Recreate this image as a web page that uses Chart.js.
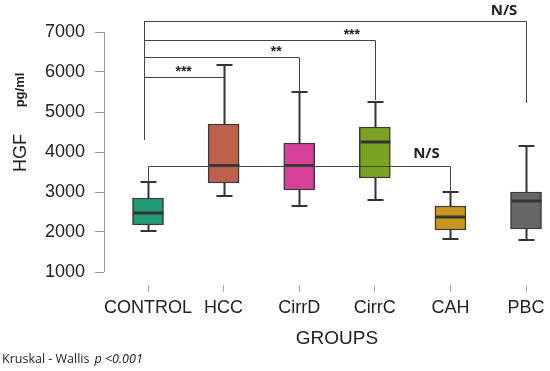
<!DOCTYPE html>
<html>
<head>
<meta charset="utf-8">
<script src="https://cdn.jsdelivr.net/npm/chart.js@4.4.1/dist/chart.umd.min.js"></script>
<style>
  body { margin: 0; background: #fff; }
  #wrap { width: 550px; height: 371px; }
</style>
</head>
<body>
<div id="wrap"><canvas id="hgfChart" width="550" height="371"></canvas></div>
<script>
// groupes et valeurs (pg/ml)
const groups = ['CONTROL', 'HCC', 'CirrD', 'CirrC', 'CAH', 'PBC'];
const whiskerLow = [2025, 2900, 2650, 2800, 1825, 1800];
const q1 = [2175, 3225, 3050, 3350, 2050, 2075];
const median = [2475, 3660, 3660, 4250, 2375, 2775];
const q3 = [2850, 4700, 4225, 4625, 2650, 3000];
const whiskerHigh = [3250, 6175, 5500, 5250, 3000, 4150];
const boxColors = ['#1F9A72', '#BE604C', '#D8409A', '#7AA321', '#C8951E', '#666666'];
const yTicks = [1000, 2000, 3000, 4000, 5000, 6000, 7000];

// comparaisons avec CONTROL
const bracketTo = [1, 2, 3, 5];
const bracketLevel = [5875, 6375, 6800, 7275];
const bracketDrop = [5875, 5500, 5300, 5225];
const bracketLabel = ['***', '**', '***', 'N/S'];
const nsLevel = 3662; // ligne N/S CONTROL - CAH

const boxExtras = {
  id: 'boxExtras',
  afterDatasetsDraw(chart) {
    const c = chart.ctx;
    const x = chart.scales.x, y = chart.scales.y;
    c.save();
    // axe y (seulement 1000 -> 7000)
    c.strokeStyle = '#999';
    c.lineWidth = 1;
    c.beginPath();
    c.moveTo(chart.chartArea.left + 0.5, y.getPixelForValue(yTicks[0]));
    c.lineTo(chart.chartArea.left + 0.5, y.getPixelForValue(yTicks[yTicks.length - 1]));
    c.stroke();

    // moustaches et medianes
    groups.forEach((g, i) => {
      const px = Math.round(x.getPixelForValue(i)) + 0.5;
      c.strokeStyle = '#333';
      c.lineWidth = 2;
      c.beginPath();
      c.moveTo(px, y.getPixelForValue(whiskerLow[i]));
      c.lineTo(px, y.getPixelForValue(q1[i]));
      c.moveTo(px, y.getPixelForValue(q3[i]));
      c.lineTo(px, y.getPixelForValue(whiskerHigh[i]));
      c.moveTo(px - 8, y.getPixelForValue(whiskerLow[i]));
      c.lineTo(px + 8, y.getPixelForValue(whiskerLow[i]));
      c.moveTo(px - 8, y.getPixelForValue(whiskerHigh[i]));
      c.lineTo(px + 8, y.getPixelForValue(whiskerHigh[i]));
      c.stroke();
      c.lineWidth = 3;
      c.beginPath();
      c.moveTo(px - 15, y.getPixelForValue(median[i]));
      c.lineTo(px + 15, y.getPixelForValue(median[i]));
      c.stroke();
    });

    // crochets de significativite
    const x0 = Math.round(x.getPixelForValue(0)) + 0.5;
    c.strokeStyle = '#444';
    c.lineWidth = 1;
    c.beginPath();
    c.moveTo(x0 - 4, y.getPixelForValue(bracketLevel[3]));
    c.lineTo(x0 - 4, y.getPixelForValue(4300));
    bracketTo.forEach((g, k) => {
      const xe = Math.round(x.getPixelForValue(g)) + 0.5;
      const yl = Math.round(y.getPixelForValue(bracketLevel[k])) + 0.5;
      c.moveTo(x0 - 4, yl);
      c.lineTo(xe, yl);
      c.lineTo(xe, y.getPixelForValue(bracketDrop[k]));
    });
    const yn = Math.round(y.getPixelForValue(nsLevel)) + 0.5;
    const x4 = Math.round(x.getPixelForValue(4)) + 0.5;
    c.moveTo(x0, y.getPixelForValue(whiskerHigh[0]));
    c.lineTo(x0, yn);
    c.lineTo(x4, yn);
    c.lineTo(x4, y.getPixelForValue(whiskerHigh[4]));
    c.stroke();

    c.fillStyle = '#222';
    c.textAlign = 'center';
    c.textBaseline = 'middle';
    const offs = [40, 23, 23, 22];
    bracketTo.forEach((g, k) => {
      const xe = x.getPixelForValue(g);
      const yl = y.getPixelForValue(bracketLevel[k]);
      if (bracketLabel[k] === 'N/S') {
        c.font = 'bold 15px "Open Sans"';
        c.fillText('N/S', xe - offs[k], yl - 10);
      } else {
        c.font = 'bold 14px "Liberation Sans"';
        c.fillText(bracketLabel[k], xe - offs[k], yl - 5);
      }
    });
    c.font = 'bold 15px "Open Sans"';
    c.fillText('N/S', x4 - 24, yn - 13);

    // titre axe x
    c.font = '19px "Liberation Sans"';
    c.fillText('GROUPS', 337, 339);

    // titre axe y (texte vertical)
    c.save();
    c.translate(21, 153);
    c.rotate(-Math.PI / 2);
    c.font = '18px "Liberation Sans"';
    c.fillStyle = '#222';
    c.fillText('HGF', 0, 0);
    c.font = 'bold 13px "Liberation Sans"';
    c.fillText('pg/ml', 63, -1);
    c.restore();

    // Kruskal - Wallis
    c.textAlign = 'left';
    c.font = '12.5px "Open Sans"';
    const t1 = 'Kruskal - Wallis';
    c.fillText(t1, 2, 359);
    const w1 = c.measureText(t1).width;
    c.font = 'italic 12.5px "Open Sans"';
    c.fillText('p <0.001', 2 + w1 + 5, 359);
    c.restore();
  }
};

const ctx = document.getElementById('hgfChart').getContext('2d');
new Chart(ctx, {
  type: 'bar',
  data: {
    datasets: [{
      data: groups.map((g, i) => ({ x: i, y: [q1[i], q3[i]] })),
      backgroundColor: boxColors,
      borderColor: '#3a3a3a',
      borderWidth: 1.5,
      borderSkipped: false,
      barThickness: 31
    }]
  },
  options: {
    responsive: false,
    animation: false,
    layout: { padding: { top: 8, right: 5, left: 0, bottom: 0 } },
    plugins: { legend: { display: false }, tooltip: { enabled: false } },
    scales: {
      x: {
        type: 'linear',
        offset: false,
        min: -0.582,
        max: 5.251,
        afterBuildTicks: s => { s.ticks = groups.map((g, i) => ({ value: i })); },
        afterFit: s => { s.height = 86; s.paddingLeft = 0; s.paddingRight = 0; },
        grid: { offset: false, drawOnChartArea: false, drawTicks: true, tickLength: 7, color: '#aaa' },
        border: { display: false },
        ticks: {
          autoSkip: false,
          maxRotation: 0,
          padding: 5,
          color: '#222',
          font: { family: 'Liberation Sans', size: 18 },
          callback: v => groups[v]
        }
      },
      y: {
        min: 675,
        max: 7600,
        afterBuildTicks: s => { s.ticks = yTicks.map(v => ({ value: v })); },
        afterFit: s => { s.width = 104; s.paddingTop = 0; s.paddingBottom = 0; },
        grid: { drawOnChartArea: false, drawTicks: true, tickLength: 9, color: '#999' },
        border: { display: false },
        ticks: {
          padding: 10,
          color: '#222',
          font: { family: 'Liberation Sans', size: 18 },
          callback: v => String(v)
        }
      }
    }
  },
  plugins: [boxExtras]
});
</script>
</body>
</html>
